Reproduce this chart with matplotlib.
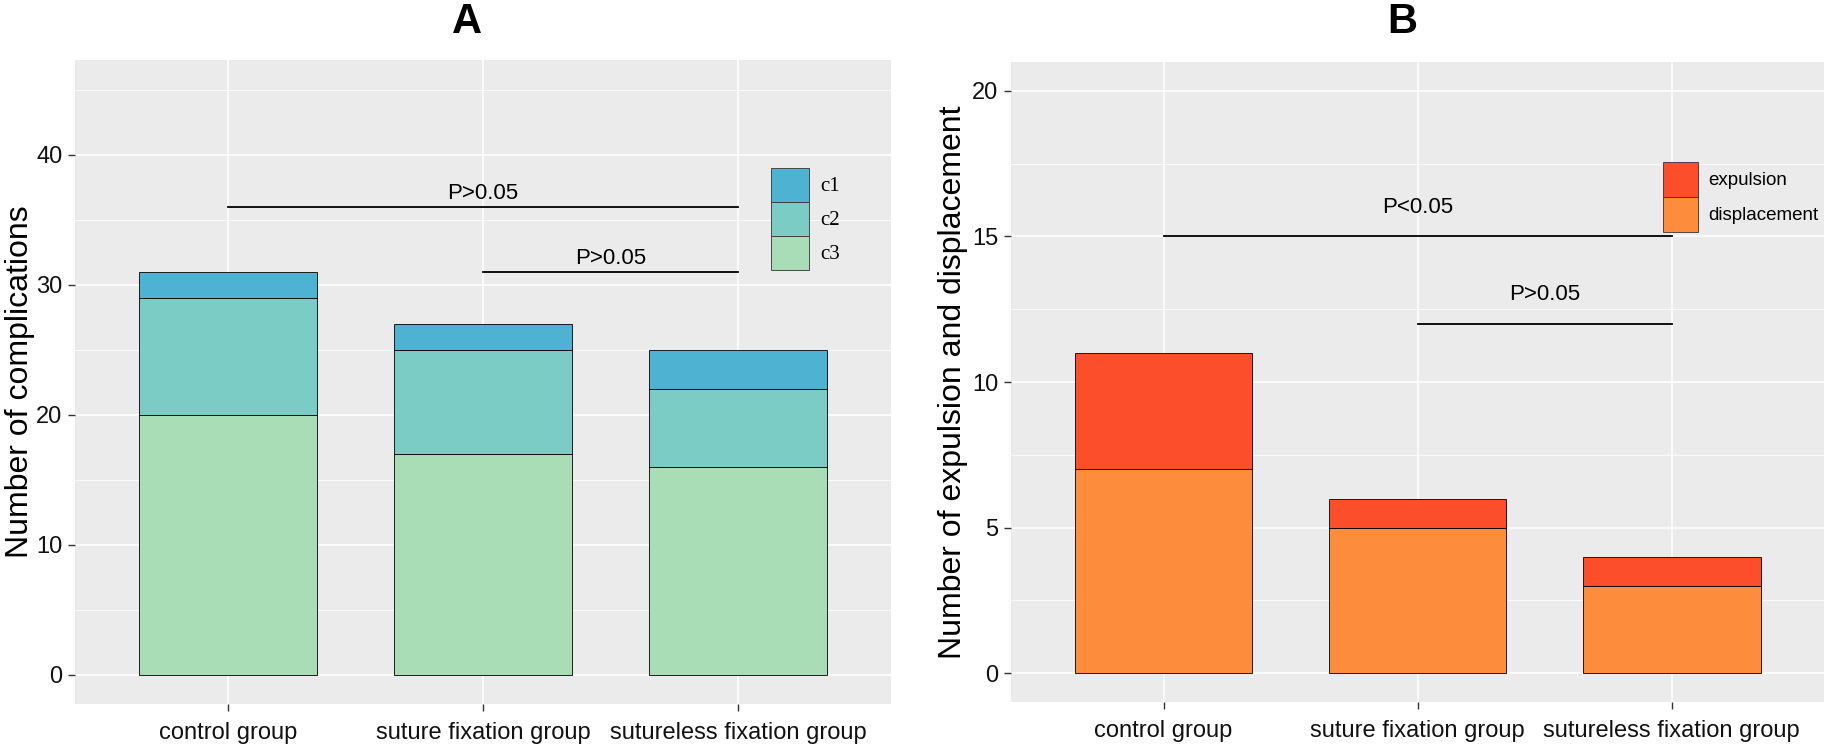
import numpy as np
import matplotlib.pyplot as plt
from matplotlib.patches import Patch

plt.rcParams['font.family'] = ['Liberation Sans', 'DejaVu Sans']

groups = ['control group', 'suture fixation group', 'sutureless fixation group']

# panel A: complications
c3 = [20, 17, 16]
c2 = [9, 8, 6]
c1 = [2, 2, 3]

# panel B: expulsion / displacement
displacement = [7, 5, 3]
expulsion = [4, 1, 1]

col_c1 = '#4EB3D3'
col_c2 = '#7BCCC4'
col_c3 = '#A8DDB5'
col_exp = '#FC4E2A'
col_dis = '#FD8D3C'

fig = plt.figure(figsize=(18.31, 7.44), dpi=100)
axA = fig.add_axes([0.041, 0.054, 0.4457, 0.865])
axB = fig.add_axes([0.5522, 0.056, 0.444, 0.861])


def gg_style(ax, ymax, major, minor):
    ax.set_facecolor('#EBEBEB')
    for s in ax.spines.values():
        s.set_visible(False)
    ax.set_xlim(0.4, 3.6)
    ax.set_ylim(-0.05 * ymax, 1.05 * ymax)
    ax.set_yticks(np.arange(0, ymax + 0.1, major))
    ax.set_yticks(np.arange(minor, 1.05 * ymax, major), minor=True)
    ax.set_xticks([1, 2, 3])
    ax.set_xticklabels(groups)
    ax.grid(which='major', color='white', linewidth=1.1)
    ax.grid(which='minor', axis='y', color='white', linewidth=0.6)
    ax.set_axisbelow(True)
    ax.tick_params(axis='both', which='major', length=5, width=1, color='#333333',
                   labelsize=17, labelcolor='#111111', pad=4)
    ax.tick_params(axis='x', pad=8)
    ax.tick_params(which='minor', length=0)


x = np.arange(1, 4)
w = 0.7
ek = dict(edgecolor='black', linewidth=0.6)

# ---- A ----
gg_style(axA, 45, 10, 5)
b3 = np.array(c3)
b2 = b3 + np.array(c2)
axA.bar(x, c3, w, color=col_c3, **ek)
axA.bar(x, c2, w, bottom=b3, color=col_c2, **ek)
axA.bar(x, c1, w, bottom=b2, color=col_c1, **ek)

axA.plot([1, 3], [36, 36], color='black', lw=1.3)
axA.text(2, 37, 'P>0.05', ha='center', va='center', fontsize=16)
axA.plot([2, 3], [31, 31], color='black', lw=1.3)
axA.text(2.5, 32, 'P>0.05', ha='center', va='center', fontsize=16)

axA.set_ylabel('Number of complications', fontsize=23, va='center')
axA.yaxis.set_label_coords(-0.067, 0.5)

hA = [Patch(facecolor=col_c1, edgecolor='#333333', linewidth=0.6, label='c1'),
      Patch(facecolor=col_c2, edgecolor='#333333', linewidth=0.6, label='c2'),
      Patch(facecolor=col_c3, edgecolor='#333333', linewidth=0.6, label='c3')]
# legend key box height = fs*(0.65*h + 0.245)
axA.legend(handles=hA, loc='upper left', bbox_to_anchor=(0.8526, 0.833),
           frameon=False, borderpad=0, borderaxespad=0, labelspacing=0,
           handlelength=1.85, handleheight=2.14, handletextpad=0.5,
           prop={'family': 'Liberation Serif', 'size': 15})

# ---- B ----
gg_style(axB, 20, 5, 2.5)
axB.bar(x, displacement, w, color=col_dis, **ek)
axB.bar(x, expulsion, w, bottom=displacement, color=col_exp, **ek)

axB.plot([1, 3], [15, 15], color='black', lw=1.3)
axB.text(2, 16, 'P<0.05', ha='center', va='center', fontsize=16)
axB.plot([2, 3], [12, 12], color='black', lw=1.3)
axB.text(2.5, 13, 'P>0.05', ha='center', va='center', fontsize=16)

axB.set_ylabel('Number of expulsion and displacement', fontsize=23, va='center')
axB.yaxis.set_label_coords(-0.071, 0.5)

hB = [Patch(facecolor=col_exp, edgecolor='#333333', linewidth=0.6, label='expulsion'),
      Patch(facecolor=col_dis, edgecolor='#333333', linewidth=0.6, label='displacement')]
axB.legend(handles=hB, loc='upper left', bbox_to_anchor=(0.802, 0.844),
           frameon=False, borderpad=0, borderaxespad=0, labelspacing=0,
           handlelength=1.87, handleheight=2.5, handletextpad=0.55,
           prop={'size': 13.5})

fig.text(467 / 1831, 0.970, 'A', ha='center', va='center', fontsize=30, fontweight='bold')
fig.text(1402 / 1831, 0.970, 'B', ha='center', va='center', fontsize=30, fontweight='bold')

fig.savefig('out.png', dpi=100)
